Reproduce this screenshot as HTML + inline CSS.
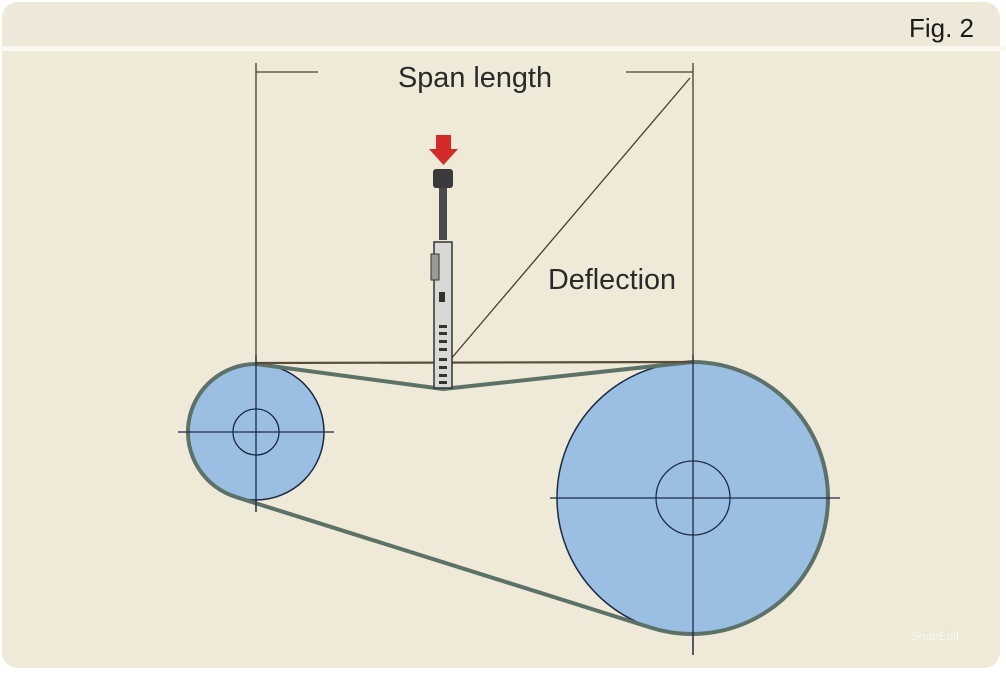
<!DOCTYPE html>
<html><head><meta charset="utf-8"><style>
html,body{margin:0;padding:0;background:#fff;}
body{width:1006px;height:674px;overflow:hidden;position:relative;font-family:"Liberation Sans",sans-serif;}
</style></head><body>
<svg width="1006" height="674" viewBox="0 0 1006 674" xmlns="http://www.w3.org/2000/svg">
<rect x="2" y="2" width="998" height="666" rx="16" fill="#efe9d7"/>
<rect x="2" y="2" width="998" height="44" rx="16" fill="#ede8d8"/>
<rect x="0" y="46" width="1006" height="5" fill="#faf8f1"/>
<text x="974" y="37" text-anchor="end" font-size="26" fill="#1a1a1a" font-family="Liberation Sans, sans-serif">Fig. 2</text>
<g stroke="#4a3b2e" stroke-width="1.3" fill="none">
<line x1="256" y1="63" x2="256" y2="512"/>
<line x1="693" y1="63" x2="693" y2="655"/>
<line x1="256" y1="72" x2="318" y2="72"/>
<line x1="626" y1="72" x2="693" y2="72"/>
<line x1="690" y1="78" x2="450" y2="360"/>
</g>
<text x="475" y="87" text-anchor="middle" font-size="29" fill="#2a2a2a" textLength="154" lengthAdjust="spacingAndGlyphs">Span length</text>
<text x="612" y="289" text-anchor="middle" font-size="29" fill="#2a2a2a" textLength="128" lengthAdjust="spacingAndGlyphs">Deflection</text>
<circle cx="256" cy="432" r="68" fill="#9bbfe3" stroke="#1b2a44" stroke-width="1.5"/>
<circle cx="693" cy="498" r="136" fill="#9bbfe3" stroke="#1b2a44" stroke-width="1.5"/>
<path d="M256,364 L443,389 L692,362 A136,136 0 1 1 652,628 L236,497 A68,68 0 0 1 256,364 Z" fill="none" stroke="#5c7268" stroke-width="4" stroke-linejoin="round"/>
<line x1="256" y1="363" x2="693" y2="362" stroke="#5a4d38" stroke-width="2.2"/>
<g stroke="#1b2a44" stroke-width="1.3" fill="none">
<line x1="178" y1="432" x2="334" y2="432"/>
<line x1="256" y1="355" x2="256" y2="512"/>
<circle cx="256" cy="432" r="23"/>
<line x1="550" y1="498" x2="840" y2="498"/>
<line x1="693" y1="355" x2="693" y2="655"/>
<circle cx="693" cy="498" r="37"/>
</g>
<path d="M436,135 H451 V149 H458 L443.5,165 L429,149 H436 Z" fill="#d42a2a"/>
<rect x="433" y="169" width="20" height="19" rx="3" fill="#3a3a3a"/>
<rect x="439" y="188" width="8" height="52" fill="#4a4a4a"/>
<rect x="434" y="242" width="18" height="146" fill="#d8d8d4" stroke="#333" stroke-width="1.5"/>
<rect x="431" y="254" width="8" height="26" fill="#9a9a96" stroke="#333" stroke-width="1"/>
<g fill="#333">
<rect x="439" y="292" width="6" height="10"/>
<rect x="439" y="325" width="8" height="3"/><rect x="439" y="332" width="8" height="3"/>
<rect x="439" y="340" width="8" height="3"/><rect x="439" y="348" width="8" height="3"/>
<rect x="439" y="358" width="8" height="3"/><rect x="439" y="366" width="8" height="3"/>
<rect x="439" y="374" width="8" height="3"/><rect x="439" y="381" width="8" height="3"/>
</g>
<text x="935" y="640" text-anchor="middle" font-size="12" fill="#ffffff" opacity="0.6">SnapEdit</text>
</svg>
</body></html>
